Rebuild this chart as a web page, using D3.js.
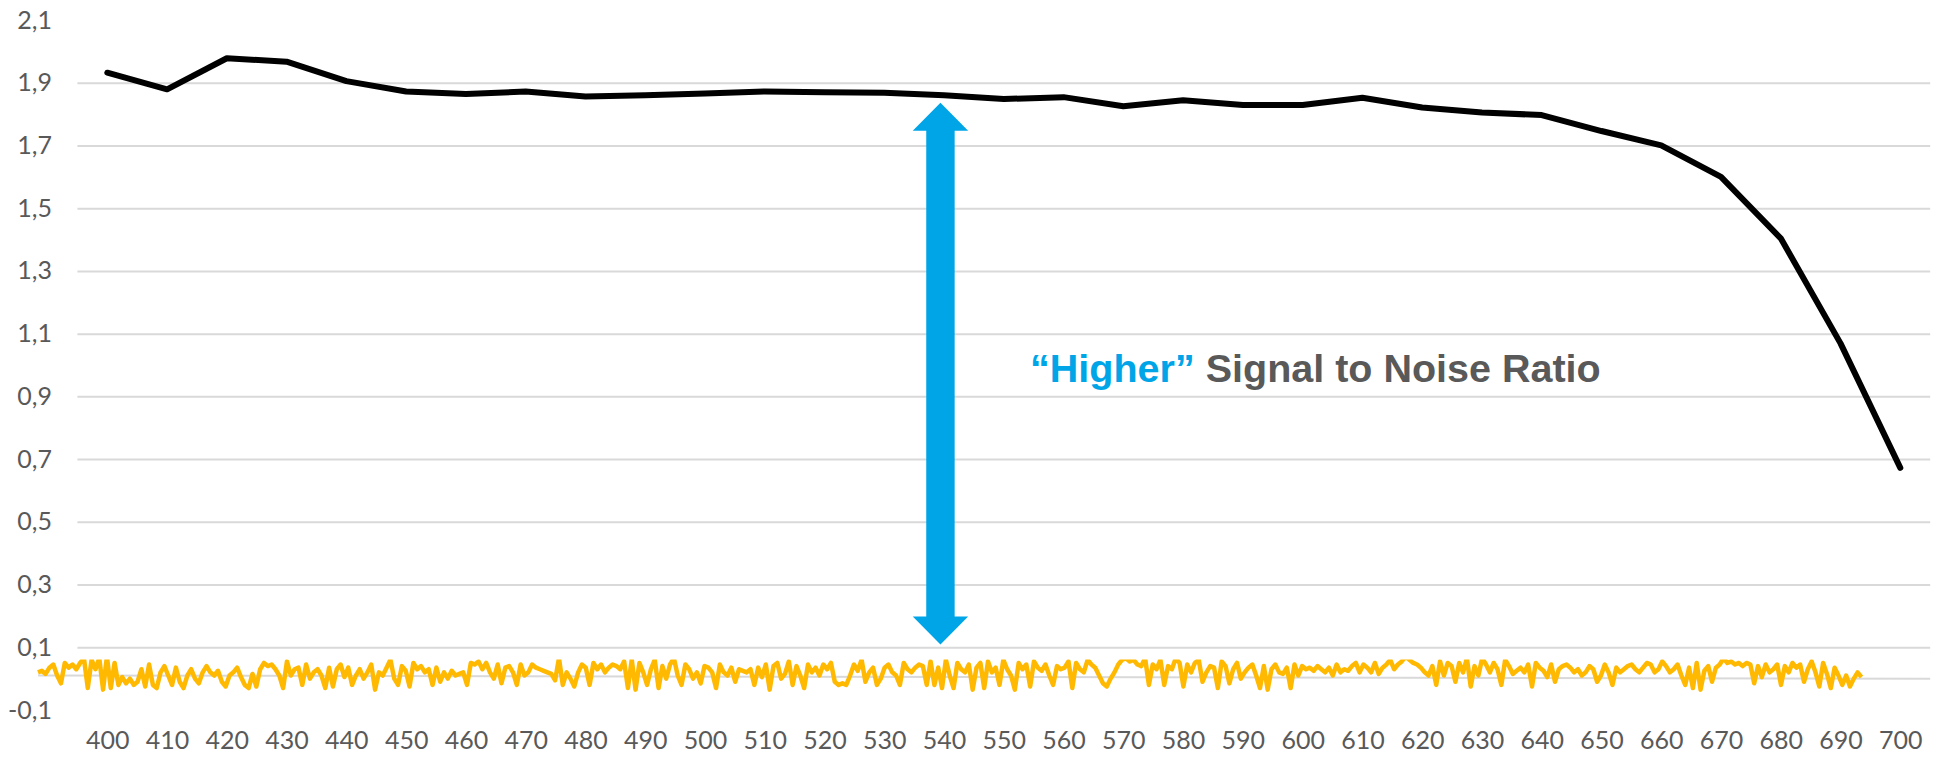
<!DOCTYPE html>
<html>
<head>
<meta charset="utf-8">
<script src="https://cdn.jsdelivr.net/npm/d3@7"></script>
<style>
  html, body { margin: 0; padding: 0; background: #ffffff; }
  svg { display: block; }
</style>
</head>
<body>
<svg id="chart" width="1938" height="757"></svg>
<script>
// ---------------- DATA ----------------
const categories = [400,410,420,430,440,450,460,470,480,490,500,510,520,530,540,550,560,570,580,590,600,610,620,630,640,650,660,670,680,690,700];
const signalValues = [1.932,1.879,1.978,1.967,1.905,1.872,1.864,1.872,1.856,1.860,1.866,1.872,1.870,1.868,1.860,1.848,1.854,1.825,1.844,1.829,1.829,1.852,1.821,1.805,1.797,1.746,1.700,1.600,1.404,1.069,0.672];
const yTickValues = [-0.1,0.1,0.3,0.5,0.7,0.9,1.1,1.3,1.5,1.7,1.9,2.1];
const yTickLabels = ["-0,1","0,1","0,3","0,5","0,7","0,9","1,1","1,3","1,5","1,7","1,9","2,1"];
const gridValues = [0.1,0.3,0.5,0.7,0.9,1.1,1.3,1.5,1.7,1.9];
const noiseRange = [388.4, 693.5];   // wavelength span of the noise trace
const noiseValues = [
.02,.025,.015,.035,.045,.01,-.015,.05,.035,.045,.03,.05,.065,-.03,.06,.03,.065,-.035,.07,-.03,
.05,-.02,.005,-.015,.0,-.02,-.01,.03,-.025,.045,-.02,-.03,.02,.04,.01,-.02,.035,-.01,-.03,.01,
.03,.0,-.015,.02,.04,.02,.01,.025,-.01,-.025,.01,.02,.035,.005,-.02,-.03,.015,-.025,.03,.05,
.04,.045,.03,.01,-.03,.055,.01,.03,.035,-.02,.045,.0,.02,.03,.01,-.03,.035,-.025,.03,.045,
.005,.035,-.02,.01,.03,.0,.02,.045,-.035,.02,.01,.035,.06,.0,-.02,.04,.025,-.025,.05,.03,
.04,.02,.03,-.02,.035,-.01,.02,.0,.025,.01,.015,.02,-.02,.05,.045,.055,.03,.05,.02,.0,
.045,-.015,.035,.04,.02,-.02,.045,.01,.02,.045,.035,.03,.025,.02,.015,-.005,.065,-.02,.02,.0,
-.025,.02,.045,.035,-.02,.05,.03,.045,.02,.035,.045,.04,.03,.055,-.03,.06,-.035,.05,.02,-.02,
.03,.06,-.03,.04,.0,.045,.065,.01,-.02,.045,.03,.0,.02,-.015,.04,.035,.02,-.03,.045,.02,
.01,.035,-.01,.03,.025,.02,.03,-.02,.035,.005,.045,-.035,.04,.05,.0,.015,.055,-.02,.04,.01,
-.03,.045,.02,.035,.01,.045,.03,.05,-.01,-.02,-.015,-.02,.01,.045,.025,.06,-.01,.02,.035,-.02,
.0,.035,.045,.02,.01,-.02,.05,.03,.02,.035,.045,.04,-.02,.055,-.02,.035,-.03,.06,.01,-.03,
.05,.03,.02,.045,-.035,.035,.05,-.03,.055,.02,.035,-.02,.06,.03,.01,-.035,.05,.03,.045,-.025,
.055,.035,.025,.045,.01,-.02,.04,.03,.035,.055,-.03,.05,.03,.02,.06,.045,.035,.01,-.015,-.025,
.0,.02,.045,.06,.065,.055,.06,.045,.04,.065,-.02,.045,.03,.06,-.02,.04,.03,.065,.05,-.025,
.045,.02,.05,.06,-.01,.02,.04,.035,-.03,.055,.04,-.015,.03,.05,.0,.02,.035,.045,.01,-.03,
.04,-.035,.03,.045,.02,.015,.035,-.03,.045,.01,.04,.03,.035,.025,.04,.03,.02,.035,.01,.045,
.02,.03,.025,.04,.05,.02,.045,.035,.02,.05,.015,.035,.045,.06,.03,.045,.055,.07,.06,.05,
.045,.035,.02,.01,.04,-.02,.055,.01,.05,.04,-.01,.05,.02,.065,-.025,.04,.01,.065,.045,.02,
.05,.03,-.02,.06,.04,.015,.025,.035,.02,.045,-.025,.05,.035,.025,.005,.045,-.01,.03,.04,.045,
.035,.02,.03,.01,.02,.04,.03,-.01,.01,.045,.02,-.02,.035,.02,.03,.04,.045,.03,.02,.035,
.05,.045,.02,.03,.055,.04,.02,.03,.045,.01,-.02,.035,-.03,.05,-.035,.025,.04,-.01,.035,.045,
.065,.05,.055,.045,.05,.04,.05,.045,-.015,.04,.005,.045,.02,.03,.045,-.02,.04,.02,.05,.035,
.045,-.01,.03,.055,.02,-.025,.05,.015,-.03,.035,.01,-.02,.01,-.025,.0,.02,.005
];
const annotation = { x: 539.4, top: 1.836, bottom: 0.109 };
const label = { x: 554.4, y: 0.99, highlight: "\u201CHigher\u201D", rest: " Signal to Noise Ratio" };

// ---------------- CHART ----------------
const svg = d3.select("#chart");
svg.append("rect").attr("width", 1938).attr("height", 757).attr("fill", "#ffffff");

const x = d3.scaleLinear().domain([400, 700]).range([107.3, 1900.3]);
const y = d3.scaleLinear().domain([-0.1, 2.1]).range([710, 20]);
const gridLeft = x(395), gridRight = x(705);

// gridlines
const grid = svg.append("g").attr("transform", `translate(${gridLeft},0)`)
  .call(d3.axisRight(y).tickValues(gridValues).tickSize(gridRight - gridLeft).tickFormat(""));
grid.select(".domain").remove();
grid.selectAll("line").attr("stroke", "#d9d9d9").attr("stroke-width", 2);

// y labels
const yAxis = svg.append("g").attr("transform", `translate(60,0)`)
  .call(d3.axisLeft(y).tickValues(yTickValues).tickSize(0).tickPadding(8)
    .tickFormat((d, i) => yTickLabels[i]));
yAxis.select(".domain").remove();
yAxis.selectAll("text").attr("font-family", "Lato, 'Open Sans', sans-serif")
  .attr("font-size", 25).attr("fill", "#595959");

// x labels
const xAxis = svg.append("g").attr("transform", `translate(0,726)`)
  .call(d3.axisBottom(x).tickValues(categories).tickSize(0).tickPadding(5).tickFormat(d3.format("d")));
xAxis.select(".domain").remove();
xAxis.selectAll("text").attr("font-family", "Lato, 'Open Sans', sans-serif")
  .attr("font-size", 25).attr("fill", "#595959");

// noise trace (pasted band with its own zero line)
svg.append("line")
  .attr("x1", x(noiseRange[0])).attr("y1", y(0.01))
  .attr("x2", x(705)).attr("y2", y(0.0))
  .attr("stroke", "#d9d9d9").attr("stroke-width", 2);

svg.append("clipPath").attr("id", "noiseClip")
  .append("rect")
  .attr("x", x(noiseRange[0]) - 3).attr("y", y(0.061))
  .attr("width", x(noiseRange[1]) - x(noiseRange[0]) + 6)
  .attr("height", y(-0.046) - y(0.061));

const noiseX = d3.scaleLinear().domain([0, noiseValues.length - 1]).range(noiseRange);
svg.append("path")
  .datum(noiseValues)
  .attr("clip-path", "url(#noiseClip)")
  .attr("fill", "none")
  .attr("stroke", "#FFB900")
  .attr("stroke-width", 4.5)
  .attr("stroke-linejoin", "round")
  .attr("d", d3.line().x((d, i) => x(noiseX(i))).y(d => y(d)));

// signal line
svg.append("path")
  .datum(signalValues)
  .attr("fill", "none")
  .attr("stroke", "#000000")
  .attr("stroke-width", 6)
  .attr("stroke-linejoin", "round")
  .attr("stroke-linecap", "round")
  .attr("d", d3.line().x((d, i) => x(categories[i])).y(d => y(d)));

// double arrow
const cx = x(annotation.x), yt = y(annotation.top), yb = y(annotation.bottom);
const hl = 28, hh = 27.7, sh = 14.2;
const arrowPts = [[cx,yt],[cx+hh,yt+hl],[cx+sh,yt+hl],[cx+sh,yb-hl],[cx+hh,yb-hl],[cx,yb],
                  [cx-hh,yb-hl],[cx-sh,yb-hl],[cx-sh,yt+hl],[cx-hh,yt+hl]];
svg.append("path").attr("d", d3.line()(arrowPts) + "Z").attr("fill", "#00A5E8");

// annotation text
const t = svg.append("text")
  .attr("x", x(label.x)).attr("y", y(label.y))
  .attr("dominant-baseline", "central")
  .attr("font-family", "'Liberation Sans', Arial, sans-serif")
  .attr("font-weight", "bold").attr("font-size", 39.5);
t.append("tspan").attr("fill", "#00A5E8").text(label.highlight);
t.append("tspan").attr("fill", "#595959").text(label.rest);
</script>
</body>
</html>
